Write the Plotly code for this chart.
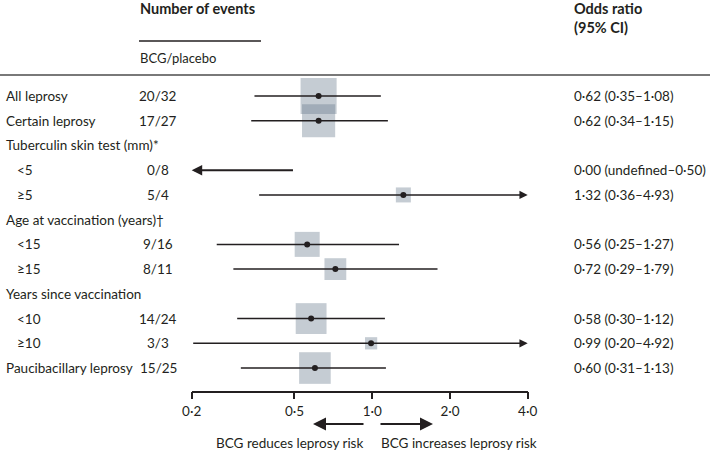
import numpy as np
import plotly.graph_objects as go

# rows of the forest plot
labels = ["All leprosy", "Certain leprosy", "Tuberculin skin test (mm)*", "<5", "≥5",
          "Age at vaccination (years)†", "<15", "≥15", "Years since vaccination",
          "<10", "≥10", "Paucibacillary leprosy"]
subrow = [False, False, False, True, True, False, True, True, False, True, True, False]
bcg = [20, 17, None, 0, 5, None, 9, 8, None, 14, 3, 15]
placebo = [32, 27, None, 8, 4, None, 16, 11, None, 24, 3, 25]
odds = [0.62, 0.62, None, 0.00, 1.32, None, 0.56, 0.72, None, 0.58, 0.99, 0.60]
lower = [0.35, 0.34, None, None, 0.36, None, 0.25, 0.29, None, 0.30, 0.20, 0.31]
upper = [1.08, 1.15, None, 0.50, 4.93, None, 1.27, 1.79, None, 1.12, 4.92, 1.13]

tickvals = [0.2, 0.5, 1.0, 2.0, 4.0]
XMIN, XMAX = 0.2, 4.0

FONT = "Lato"
INK = "#231f20"
W, H = 710, 452


def dot(v):
    return f"{v:.2f}".replace(".", "·")


def px_x(p):
    return p / W


def px_y(p):
    return 1 - p / H


rows = list(range(len(labels)))
fig = go.Figure()

# weight boxes
bx, by, bs = [], [], []
for i in rows:
    if odds[i]:
        bx.append(odds[i]); by.append(i); bs.append(5 * np.sqrt(bcg[i] + placebo[i]))
fig.add_trace(go.Scatter(x=bx, y=by, mode="markers", cliponaxis=False,
                         marker=dict(symbol="square", size=bs, color="rgba(105,122,141,0.55)",
                                     line=dict(width=0))))

# confidence intervals
lx, ly = [], []
annotations = []
for i in rows:
    if odds[i] is None:
        continue
    lo = lower[i] if lower[i] is not None else XMIN
    hi = min(upper[i], XMAX)
    if lower[i] is None:
        annotations.append(dict(x=np.log10(XMIN), y=i, ax=np.log10(upper[i]), ay=i,
                                xref="x", yref="y", axref="x", ayref="y", text="",
                                showarrow=True, arrowhead=2, arrowwidth=2, arrowsize=1.05,
                                arrowcolor=INK))
    elif upper[i] > XMAX:
        annotations.append(dict(x=np.log10(XMAX), y=i, ax=np.log10(lo), ay=i,
                                xref="x", yref="y", axref="x", ayref="y", text="",
                                showarrow=True, arrowhead=2, arrowwidth=1.5, arrowsize=1.1,
                                arrowcolor=INK))
    else:
        lx += [lo, hi, None]; ly += [i, i, None]
fig.add_trace(go.Scatter(x=lx, y=ly, mode="lines", cliponaxis=False,
                         line=dict(color=INK, width=1.5)))

# point estimates
px_, py_ = [], []
for i in rows:
    if odds[i]:
        px_.append(odds[i]); py_.append(i)
fig.add_trace(go.Scatter(x=px_, y=py_, mode="markers", cliponaxis=False,
                         marker=dict(symbol="circle", size=6, color=INK)))


def label(x, y, text, anchor="left", yref="paper", size=13.5):
    return dict(x=px_x(x), y=y, xref="paper", yref=yref, text=text, showarrow=False,
                xanchor=anchor, yanchor="middle", font=dict(size=size))


# text columns
for i in rows:
    annotations.append(label(4 if not subrow[i] else 15, i, labels[i], yref="y"))
    if bcg[i] is not None:
        annotations.append(label(158, i, f"{bcg[i]}/{placebo[i]}", "center", yref="y"))
    if odds[i] is not None:
        lo_txt = dot(lower[i]) if lower[i] is not None else "undefined"
        annotations.append(label(572, i, f"{dot(odds[i])} ({lo_txt}–{dot(upper[i])})", yref="y"))

# headers
annotations += [
    label(138, px_y(9), "<b>Number of events</b>", size=14.5),
    label(138, px_y(58), "BCG/placebo", size=13),
    label(572, px_y(9), "<b>Odds ratio</b>", size=14.5),
    label(572, px_y(28), "<b>(95% CI)</b>", size=14.5),
    label(365, px_y(443), "BCG reduces leprosy risk", "right"),
    label(379, px_y(443), "BCG increases leprosy risk"),
]

# direction arrows
for tip, tail in [(313, 365), (433, 379)]:
    annotations.append(dict(x=px_x(tip), y=px_y(424), ax=tail - tip, ay=0, xref="paper",
                            yref="paper", axref="pixel", ayref="pixel", text="",
                            showarrow=True, arrowhead=2, arrowwidth=2, arrowsize=1.3,
                            arrowcolor=INK))

shapes = [
    dict(type="line", xref="paper", yref="paper", x0=0, x1=1, y0=px_y(75), y1=px_y(75),
         line=dict(color="#4d4d4d", width=1.5)),
    dict(type="line", xref="paper", yref="paper", x0=px_x(139), x1=px_x(261),
         y0=px_y(41), y1=px_y(41), line=dict(color=INK, width=1.5)),
    dict(type="line", xref="x", yref="paper", x0=np.log10(1.0), x1=np.log10(1.0),
         y0=px_y(75), y1=px_y(390.7), line=dict(color=INK, width=1.5)),
]

fig.update_layout(
    width=W, height=H, margin=dict(l=0, r=0, t=0, b=0, autoexpand=False),
    paper_bgcolor="white", plot_bgcolor="white", showlegend=False,
    font=dict(family=FONT, size=13.5, color=INK),
    annotations=annotations, shapes=shapes,
    xaxis=dict(type="log", range=[np.log10(XMIN), np.log10(XMAX)], automargin=False,
               domain=[191.7 / W, 527.7 / W], tickvals=tickvals,
               ticktext=[f"{v:.1f}".replace(".", "·") for v in tickvals],
               ticks="outside", ticklen=7, tickwidth=1.5, tickcolor=INK,
               showline=True, linecolor=INK, linewidth=1.5, showgrid=False,
               zeroline=False, tickfont=dict(size=13.5, color=INK)),
    yaxis=dict(range=[(390.7 - 96) / 24.73, -96 / 24.73], domain=[1 - 390.7 / H, 1],
               visible=False, automargin=False, showgrid=False, zeroline=False),
)

# the page body has a default 8px margin; drop it so the figure sits at the window corner
fig.write_html("out.html", config={"displayModeBar": False},
               post_script="document.body.style.margin='0';")
